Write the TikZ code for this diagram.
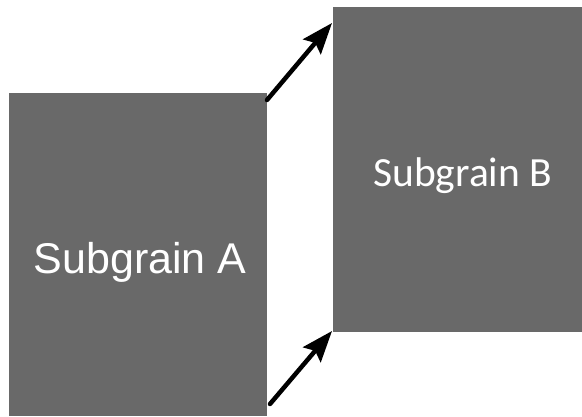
\documentclass[tikz,border=0pt]{standalone}
\usepackage{fontspec}
\setmainfont{Liberation Sans}
\newfontfamily\calib{Carlito}
\usetikzlibrary{arrows.meta}
\definecolor{grain}{RGB}{105,105,105}
\tikzset{
  grainbox/.style={fill=grain, draw=none, inner sep=0pt, anchor=north west},
  grainlabel/.style={text=white, inner sep=0pt, anchor=base},
  shiftarrow/.style={line width=4.5pt, line cap=round, -{Stealth[length=31pt, width=23pt, inset=5pt]}}
}
\begin{document}
\begin{tikzpicture}[x=1pt, y=-1pt]
\useasboundingbox (0,0) rectangle (582,416);
\node[grainbox, minimum width=258pt, minimum height=323pt] (A) at (8.5,93) {};
\node[grainbox, minimum width=249.5pt, minimum height=325pt] (B) at (332.5,7) {};
\node[grainlabel, font=\fontsize{43}{48}\selectfont] (la) at (140,273.3) {Subgrain A};
\node[grainlabel, font=\calib\fontsize{41.5}{46}\selectfont] (lb) at (462.7,186.7) {Subgrain B};
\coordinate (s1) at (267,100);
\coordinate (t1) at (332,23);
\coordinate (s2) at (270,404);
\coordinate (t2) at (332,331);
\draw[shiftarrow] (s1) -- (t1);
\draw[shiftarrow] (s2) -- (t2);
\end{tikzpicture}
\end{document}
